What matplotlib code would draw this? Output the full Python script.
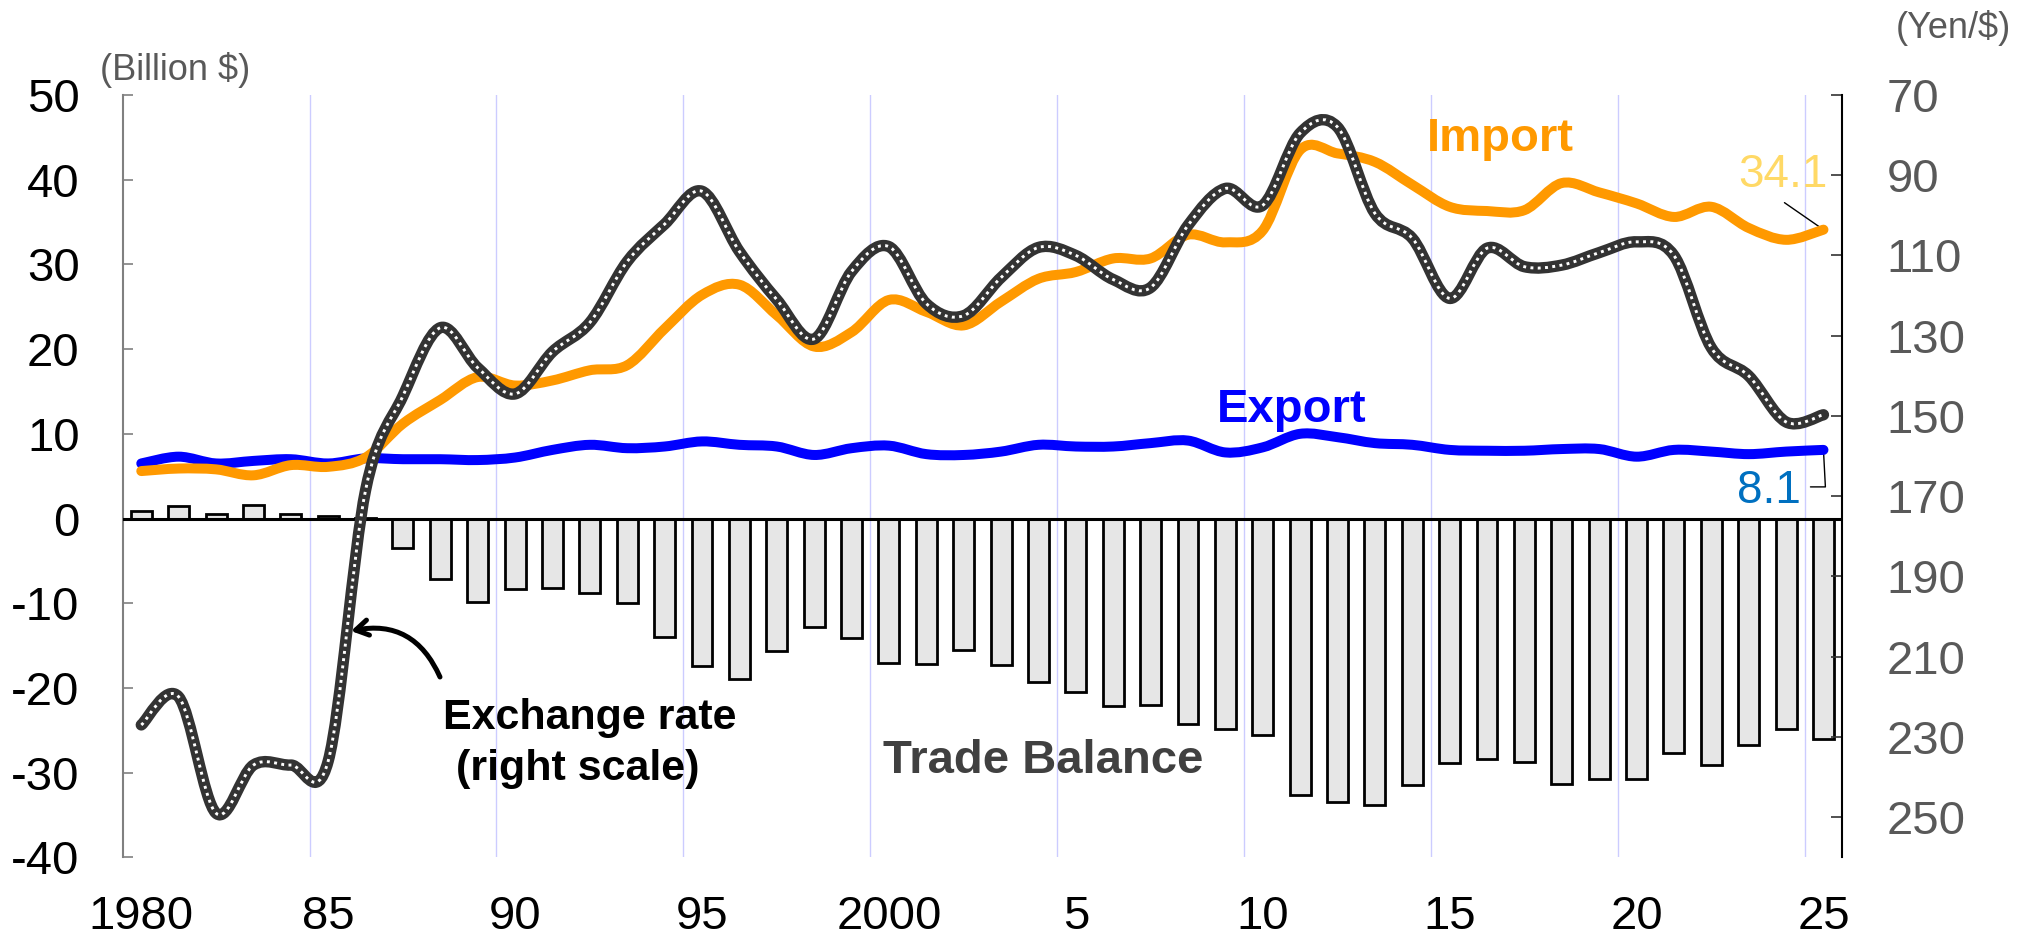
import numpy as np
import matplotlib
matplotlib.use("Agg")
import matplotlib.pyplot as plt
from matplotlib.path import Path
from matplotlib.patches import PathPatch

plt.rcParams['font.family'] = ['Liberation Sans', 'DejaVu Sans']
plt.rcParams['axes.unicode_minus'] = False

# ---- data ----
years = np.arange(1980, 2026)

trade_balance = [0.9, 1.5, 0.55, 1.6, 0.5, 0.3, 0.05, -3.5, -7.1, -9.8,
                 -8.3, -8.2, -8.8, -10.0, -14.0, -17.4, -19.0, -15.7, -12.8, -14.1,
                 -17.1, -17.2, -15.5, -17.3, -19.25, -20.5, -22.1, -22.0, -24.2, -24.8,
                 -25.5, -32.6, -33.5, -33.8, -31.5, -28.9, -28.4, -28.8, -31.3, -30.7,
                 -30.7, -27.7, -29.1, -26.7, -24.8, -26.0]

imports = [5.6, 5.9, 5.8, 5.1, 6.3, 6.1, 7.2, 11.2, 14.0, 16.7,
           15.7, 16.3, 17.5, 18.1, 22.4, 26.4, 27.6, 24.0, 20.3, 22.0,
           25.8, 24.4, 22.8, 25.6, 28.3, 29.1, 30.7, 30.7, 33.5, 32.6,
           34.0, 43.5, 43.1, 42.1, 39.4, 36.8, 36.3, 36.4, 39.6, 38.5,
           37.2, 35.6, 36.8, 34.3, 32.9, 34.1]

exports = [6.5, 7.3, 6.5, 6.8, 7.0, 6.5, 7.1, 7.0, 7.0, 6.9,
           7.2, 8.1, 8.7, 8.3, 8.5, 9.1, 8.7, 8.5, 7.5, 8.3,
           8.6, 7.6, 7.5, 7.9, 8.7, 8.5, 8.5, 8.9, 9.2, 7.8,
           8.4, 10.0, 9.6, 8.9, 8.7, 8.1, 8.0, 8.0, 8.2, 8.2,
           7.3, 8.1, 7.9, 7.6, 7.9, 8.1]

yen_per_dollar = [227, 220, 249, 237, 237, 236, 168.5, 145, 128, 138,
                  144.5, 134, 126.7, 111.5, 102.2, 94, 109, 121, 130.8, 114,
                  107.8, 122, 125, 115.5, 108, 110, 116, 118, 102.5, 93.3,
                  97.5, 79.5, 78, 99.5, 105.7, 120.7, 108.2, 112.8, 112.4, 109.3,
                  106.6, 110, 133, 140, 151.5, 149.7]

tick_years = [1980, 1985, 1990, 1995, 2000, 2005, 2010, 2015, 2020, 2025]
tick_labels = ['1980', '85', '90', '95', '2000', '5', '10', '15', '20', '25']
grid_years = [1985, 1990, 1995, 2000, 2005, 2010, 2015, 2020, 2025]

W, H = 2023, 944


def smooth_path(x, y):
    # smoothed line like a spreadsheet chart: Catmull-Rom as cubic Bezier segments
    pts = np.column_stack([np.asarray(x, float), np.asarray(y, float)])
    ext = np.vstack([pts[0], pts, pts[-1]])
    verts = [pts[0]]
    codes = [Path.MOVETO]
    for i in range(len(pts) - 1):
        p0, p1, p2, p3 = ext[i], ext[i + 1], ext[i + 2], ext[i + 3]
        verts += [p1 + (p2 - p0) / 6, p2 - (p3 - p1) / 6, p2]
        codes += [Path.CURVE4] * 3
    return Path(verts, codes)


def fpos(x, y):
    return x / W, 1 - y / H


fig = plt.figure(figsize=(W / 100, H / 100), dpi=100)
ax = fig.add_axes([0.0606, 0.0918, 0.9106 - 0.0606, 0.8994 - 0.0918])
ax2 = ax.twinx()

xpos = years + 0.5

for g in grid_years:
    ax.axvline(g, color='#CCCCFF', lw=1.0, zorder=0)

ax.bar(xpos, trade_balance, width=0.56, color='#E6E6E6', edgecolor='black',
       linewidth=2.0, zorder=2)
ax.axhline(0, color='black', lw=2.2, zorder=3)

ax.add_patch(PathPatch(smooth_path(xpos, exports), fill=False, edgecolor='#0000FF',
                       lw=7.2, capstyle='round', joinstyle='round', zorder=4))
ax.add_patch(PathPatch(smooth_path(xpos, imports), fill=False, edgecolor='#FF9900',
                       lw=7.2, capstyle='round', joinstyle='round', zorder=5))

fx = smooth_path(xpos, yen_per_dollar)
ax2.add_patch(PathPatch(fx, fill=False, edgecolor='#333333', lw=8.2,
                        capstyle='round', joinstyle='round', zorder=6))
ax2.add_patch(PathPatch(fx, fill=False, edgecolor='white', lw=2.1,
                        linestyle=(0, (1, 1.5)), capstyle='butt', zorder=7))

ax.set_xlim(1980, 2026)
ax.set_ylim(-40, 50)
ax2.set_ylim(260, 70)

ax.set_yticks(range(-40, 51, 10))
ax.set_yticklabels([str(v) for v in range(-40, 51, 10)])
ax2.set_yticks(range(70, 251, 20))
ax.set_xticks([t + 0.5 for t in tick_years])
ax.set_xticklabels(tick_labels)

ax.tick_params(axis='y', direction='in', length=7.5, width=1.2, color='#808080',
               labelsize=34, pad=31, labelcolor='black')
ax.tick_params(axis='x', length=0, labelsize=34, pad=27, labelcolor='black')
ax2.tick_params(axis='y', direction='in', length=8, width=1.2, color='#333333',
                labelsize=34, pad=32, labelcolor='#595959')

for a in (ax, ax2):
    a.spines['top'].set_visible(False)
    a.spines['bottom'].set_visible(False)
ax.spines['right'].set_visible(False)
ax.spines['left'].set_color('#808080')
ax.spines['left'].set_linewidth(1.5)
ax2.spines['left'].set_visible(False)
ax2.spines['right'].set_color('black')
ax2.spines['right'].set_linewidth(1.5)

# axis unit labels
fig.text(*fpos(175, 70), '(Billion $)', fontsize=26, color='#595959', ha='center', va='center')
fig.text(*fpos(1953, 28), '(Yen/$)', fontsize=26, color='#595959', ha='center', va='center')

# series labels
fig.text(*fpos(1427, 151), 'Import', fontsize=34, fontweight='bold', color='#FF9900', va='baseline')
fig.text(*fpos(1217, 422), 'Export', fontsize=34, fontweight='bold', color='#0000FF', va='baseline')
fig.text(*fpos(883, 773), 'Trade Balance', fontsize=34, fontweight='bold', color='#404040', va='baseline')
fig.text(*fpos(443, 729), 'Exchange rate', fontsize=31, fontweight='bold', color='black', va='baseline')
fig.text(*fpos(456, 780), '(right scale)', fontsize=31, fontweight='bold', color='black', va='baseline')

# latest values with leader lines
fig.text(*fpos(1828, 187), '34.1', fontsize=33, color='#FFD966', ha='right', va='baseline')
fig.text(*fpos(1737, 503), '8.1', fontsize=33, color='#0070C0', ha='left', va='baseline')
ax.annotate('', xy=(xpos[-1], imports[-1]), xytext=(-39, 27), textcoords='offset pixels',
            arrowprops=dict(arrowstyle='-', color='black', lw=1.0, shrinkA=0, shrinkB=0))
ax.annotate('', xy=(xpos[-1], exports[-1]), xytext=(-13, -37), textcoords='offset pixels',
            arrowprops=dict(arrowstyle='-', color='black', lw=1.0, shrinkA=0, shrinkB=0,
                            connectionstyle='angle,angleA=0,angleB=93,rad=0'))

# curved arrow to the exchange rate line
ax.annotate('', xy=(351, H - 631), xycoords='figure pixels',
            xytext=(440, H - 677), textcoords='figure pixels',
            arrowprops=dict(arrowstyle='->,head_length=0.9,head_width=0.55', color='black',
                            lw=3.6, shrinkA=0, shrinkB=0, connectionstyle='arc3,rad=0.4'))

fig.savefig('out.png', dpi=100)
